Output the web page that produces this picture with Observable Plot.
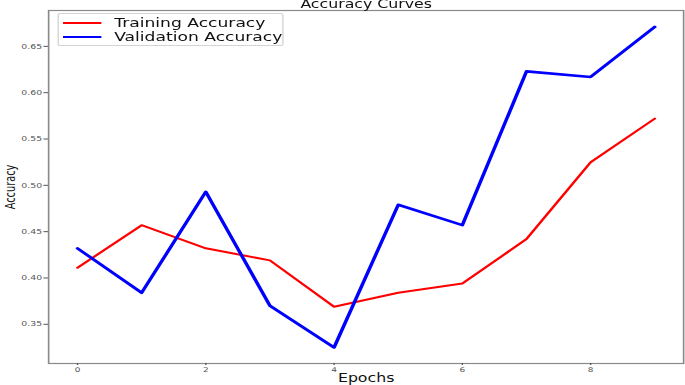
<!DOCTYPE html>
<html>
<head>
<meta charset="utf-8">
<script src="https://cdn.jsdelivr.net/npm/d3@7"></script>
<script src="https://cdn.jsdelivr.net/npm/@observablehq/plot@0.6"></script>
<style>
  html, body { margin: 0; padding: 0; background: #fff; }
  #wrap { position: relative; width: 685px; height: 385px; overflow: hidden; font-family: "DejaVu Sans", sans-serif; }
  #inner { position: absolute; left: 0; top: 0; width: 500px; height: 385px; transform: scaleX(1.37); transform-origin: 0 0; }
  #legend { position: absolute; left: 41.6px; top: 13px; width: 165px; height: 33px; border: 1px solid #d4d4d4; border-radius: 2px; background: rgba(255,255,255,0.85); box-sizing: border-box; }
  .item { position: absolute; left: 3.6px; height: 14px; display: flex; align-items: center; font-size: 12.5px; line-height: 14px; color: #111; white-space: nowrap; }
  .swatch { display: inline-block; width: 27.7px; height: 0; margin-right: 9.5px; }
</style>
</head>
<body>
<div id="wrap"><div id="inner"></div></div>
<script>
const epochs = [0, 1, 2, 3, 4, 5, 6, 7, 8, 9];
const trainAcc = [0.411, 0.457, 0.432, 0.419, 0.369, 0.384, 0.394, 0.442, 0.525, 0.572];
const valAcc = [0.432, 0.384, 0.493, 0.370, 0.325, 0.479, 0.457, 0.623, 0.617, 0.671];
const seriesNames = ["Training Accuracy", "Validation Accuracy"];
const seriesColors = ["red", "blue"];
const xTicks = [0, 2, 4, 6, 8];
const yTicks = [0.35, 0.40, 0.45, 0.50, 0.55, 0.60, 0.65];
const titleText = "Accuracy Curves";
const xLabel = "Epochs";
const yLabel = "Accuracy";

const train = epochs.map((e, i) => ({epoch: e, acc: trainAcc[i]}));
const val = epochs.map((e, i) => ({epoch: e, acc: valAcc[i]}));

const chart = Plot.plot({
  width: 500,
  height: 385,
  marginLeft: 35,
  marginRight: 1.5,
  marginTop: 10,
  marginBottom: 22,
  style: {fontFamily: "DejaVu Sans", background: "white", overflow: "visible"},
  x: {domain: [-0.45, 9.45]},
  y: {domain: [0.3077, 0.6887]},
  marks: [
    Plot.line(train, {x: "epoch", y: "acc", stroke: seriesColors[0], strokeWidth: 2}),
    Plot.line(val, {x: "epoch", y: "acc", stroke: seriesColors[1], strokeWidth: 2.6}),
    Plot.frame({stroke: "#8a8a8a", strokeWidth: 1.2}),
    Plot.axisY({ticks: yTicks, tickFormat: d3.format(".2f"), tickSize: 3.3, tickPadding: 1.5, fontSize: 6.8, label: null, color: "#555"}),
    Plot.axisX({ticks: xTicks, tickFormat: d3.format("d"), tickSize: 2, tickPadding: 1.5, fontSize: 6.5, label: null, color: "#555"}),
    Plot.text([xLabel], {text: d => d, frameAnchor: "bottom", lineAnchor: "bottom", textAnchor: "middle", dy: 18, fontSize: 11.5, fill: "#111"}),
    Plot.text([yLabel], {text: d => d, frameAnchor: "left", textAnchor: "middle", lineAnchor: "middle", dx: -28, rotate: -90, fontSize: 9.8, fill: "#111"}),
    Plot.text([titleText], {text: d => d, frameAnchor: "top", textAnchor: "middle", dy: -2.5, lineAnchor: "bottom", fontSize: 11.5, fill: "#111"})
  ]
});

const inner = document.getElementById("inner");
inner.appendChild(chart);

const legend = document.createElement("div");
legend.id = "legend";
seriesNames.forEach((name, i) => {
  const it = document.createElement("div");
  it.className = "item";
  it.style.top = (i === 0 ? 2 : 16) + "px";
  const sw = document.createElement("span");
  sw.className = "swatch";
  sw.style.borderTop = "2px solid " + seriesColors[i];
  it.appendChild(sw);
  it.appendChild(document.createTextNode(name));
  legend.appendChild(it);
});
inner.appendChild(legend);
</script>
</body>
</html>
